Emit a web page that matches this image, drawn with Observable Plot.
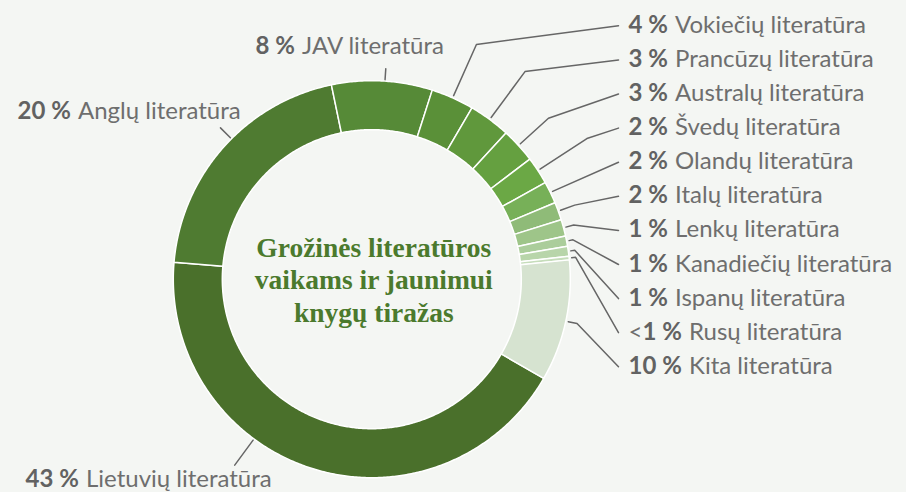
<!DOCTYPE html>
<html>
<head>
<meta charset="utf-8">
<script src="https://cdn.jsdelivr.net/npm/d3@7"></script>
<script src="https://cdn.jsdelivr.net/npm/@observablehq/plot@0.6"></script>
<style>
  html, body { margin: 0; padding: 0; background: #f4f6f3; }
  #chart svg { display: block; }
</style>
</head>
<body>
<div id="chart"></div>
<script>
// ---------- data ----------
const names = ["Lietuvių literatūra", "Anglų literatūra", "JAV literatūra", "Vokiečių literatūra",
  "Prancūzų literatūra", "Australų literatūra", "Švedų literatūra", "Olandų literatūra",
  "Italų literatūra", "Lenkų literatūra", "Kanadiečių literatūra", "Ispanų literatūra",
  "Rusų literatūra", "Kita literatūra"];
const shares = [43.1, 20.4, 8.2, 3.5, 3.4, 2.85, 2.25, 1.8, 1.45, 1.35, 0.85, 0.8, 0.3, 9.9];
const pctLabels = ["43 %", "20 %", "8 %", "4 %", "3 %", "3 %", "2 %", "2 %", "2 %", "1 %", "1 %", "1 %", "1 %", "10 %"];
const pctPrefix = ["", "", "", "", "", "", "", "", "", "", "", "", "<", ""];
const sliceColors = ["#4a702b", "#4f7b31", "#568a37", "#5a9038", "#60983c", "#65a040", "#6ba845",
  "#77b058", "#8fbb78", "#9ec589", "#abcd9b", "#b8d5aa", "#c6ddbb", "#d6e3d0"];
const titleLines = ["Grožinės literatūros", "vaikams ir jaunimui", "knygų tiražas"];

// ---------- layout ----------
const W = 906, H = 492;
const cx = 371.3, cy = 278.7, rOuter = 198.5, rInner = 149.5;
const startDeg = 120;
const FS = 24, FONT = "Lato";
const rad = d => d * Math.PI / 180;
const pt = (a, r) => ({x: cx + r * Math.sin(a), y: cy - r * Math.cos(a)});

const pie = d3.pie().sort(null).value(d => d)
  .startAngle(rad(startDeg)).endAngle(rad(startDeg + 360));
const arcs = pie(shares);

// slice polygons
const slices = arcs.map((a, i) => {
  const n = Math.max(2, Math.ceil((a.endAngle - a.startAngle) / rad(0.5)));
  const pts = [];
  for (let k = 0; k <= n; k++) pts.push(pt(a.startAngle + (a.endAngle - a.startAngle) * k / n, rOuter));
  for (let k = n; k >= 0; k--) pts.push(pt(a.startAngle + (a.endAngle - a.startAngle) * k / n, rInner));
  return {i, pts};
});

// text measuring
const ctx = document.createElement("canvas").getContext("2d");
const tw = (s, w) => { ctx.font = `${w} ${FS}px ${FONT}`; return ctx.measureText(s).width; };
const GAP = tw(" ", 400) + 1;

// label placement
const leaders = [];
const segs = [];
function addLabel(i, x0, base) {
  let x = x0;
  if (pctPrefix[i]) { segs.push({x, y: base, t: pctPrefix[i], w: 400}); x += tw(pctPrefix[i], 400); }
  segs.push({x, y: base, t: pctLabels[i], w: 700}); x += tw(pctLabels[i], 700) + GAP;
  segs.push({x, y: base, t: names[i], w: 400});
}
// right column (slices 3..13)
const bendR = [257, 258, 239, 257, 201, 216, 209, 205, 205, 205, 210];
const rowTop = 32.3, rowStep = 34.1, labelX = 628, lineEndX = 618;
for (let j = 0; j < 11; j++) {
  const i = j + 3, a = arcs[i];
  const mid = (a.startAngle + a.endAngle) / 2;
  const base = rowTop + j * rowStep;
  const p0 = pt(mid, 201), p1 = pt(mid, bendR[j]);
  leaders.push({k: i, ...p0}, {k: i, ...p1}, {k: i, x: lineEndX, y: base - 7});
  addLabel(i, labelX, base);
}
// left labels: [slice, leader angle, leader outer r, text x, baseline]
const leftLayout = [[0, 216.4, 231, 25, 486], [1, 315, 214, 17, 118], [2, 3.8, 211, 255, 53]];
for (const [i, ang, r1, tx, ty] of leftLayout) {
  const p0 = pt(rad(ang), 200), p1 = pt(rad(ang), r1);
  leaders.push({k: i, ...p0}, {k: i, ...p1});
  addLabel(i, tx, ty);
}

const marks = [];
for (const s of slices) {
  marks.push(Plot.line(s.pts, {x: "x", y: "y", curve: "linear-closed",
    fill: sliceColors[s.i], stroke: "#ffffff", strokeWidth: 1.5, strokeLinejoin: "round"}));
}
marks.push(Plot.line(leaders, {x: "x", y: "y", z: "k", stroke: "#666666", strokeWidth: 1.5}));
marks.push(Plot.text(segs.filter(d => d.w === 700), {x: "x", y: "y", text: "t", textAnchor: "start",
  lineAnchor: "bottom", fontSize: FS, fontWeight: 700, fill: "#626262", fontFamily: FONT}));
marks.push(Plot.text(segs.filter(d => d.w === 400), {x: "x", y: "y", text: "t", textAnchor: "start",
  lineAnchor: "bottom", fontSize: FS, fontWeight: 400, fill: "#6e6e6e", fontFamily: FONT}));
marks.push(Plot.text([{x: cx + 2, y: cy}], {x: "x", y: "y", text: () => titleLines.join("\n"),
  lineAnchor: "middle", lineHeight: 1.17, fontSize: 27.5, fontWeight: "bold",
  fontFamily: "Liberation Serif", fill: "#4b7a2d"}));

const chart = Plot.plot({
  width: W, height: H, margin: 0,
  x: {domain: [0, W], range: [0, W], axis: null},
  y: {domain: [0, H], range: [0, H], axis: null},
  style: {background: "#f4f6f3", overflow: "visible"},
  marks
});
document.getElementById("chart").append(chart);
</script>
</body>
</html>
